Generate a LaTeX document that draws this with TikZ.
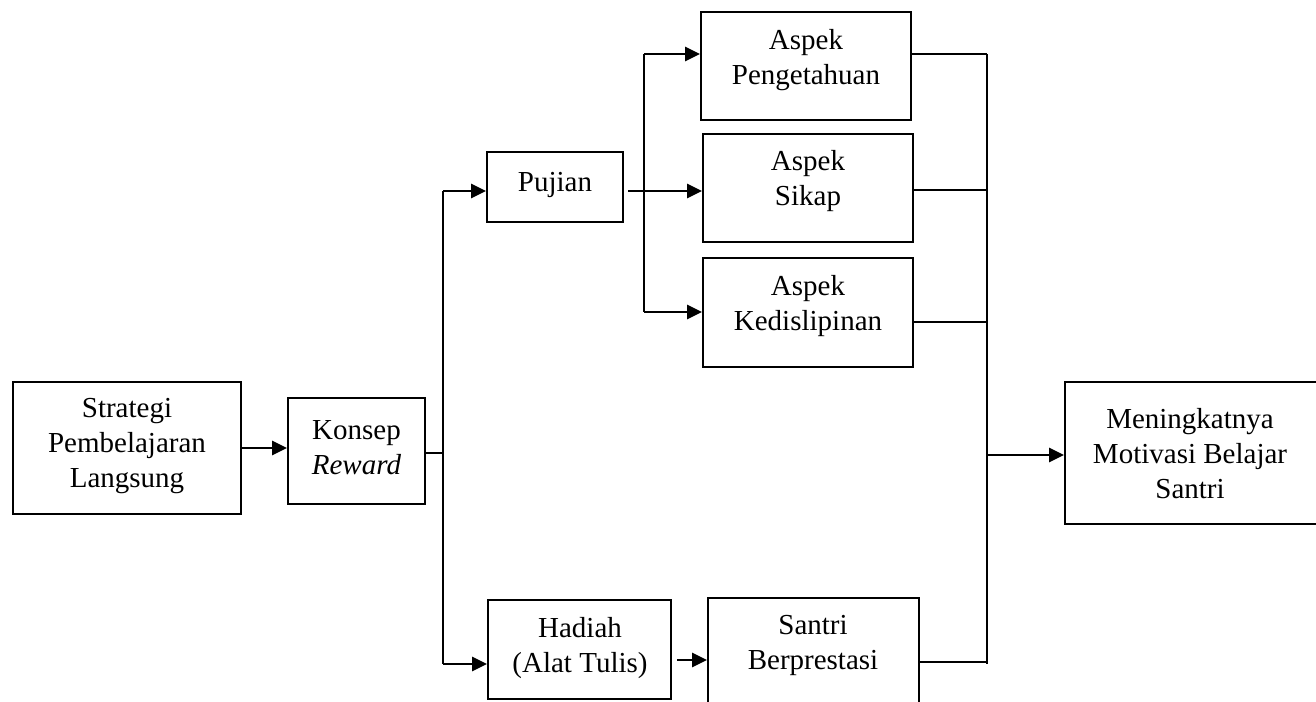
\documentclass[tikz,border=0pt]{standalone}
\usepackage{fontspec}
\setmainfont{Liberation Serif}
\usetikzlibrary{arrows.meta,calc}
\tikzset{
 box/.style={draw, line width=2pt, inner sep=0pt},
 txt/.style={align=center, inner sep=0pt, font=\fontsize{29}{35}\selectfont},
 conn/.style={line width=2.8pt},
 thinconn/.style={line width=1.6pt},
 arr/.style={line width=2.8pt, -{Triangle[length=15pt,width=14pt]}},
}
\begin{document}
\begin{tikzpicture}[x=1pt,y=-1pt]
\useasboundingbox (0,0) rectangle (1316,701);
% boxes
\node[box, minimum width=228, minimum height=132] (strat) at (127,448) {};
\node[box, minimum width=137, minimum height=106] (konsep) at (356.5,451) {};
\node[box, minimum width=136, minimum height=70] (pujian) at (555,187) {};
\node[box, minimum width=210, minimum height=108] (aspP) at (806,66) {};
\node[box, minimum width=210, minimum height=108] (aspS) at (808,188) {};
\node[box, minimum width=210, minimum height=109] (aspK) at (808,312.5) {};
\node[box, minimum width=257, minimum height=142] (motiv) at (1193.5,453) {};
\node[box, minimum width=183, minimum height=99] (hadiah) at (579.5,649.5) {};
\node[box, minimum width=211, minimum height=142] (santri) at (813.5,669) {};
% texts
\node[txt] (stratT) at (127,446) {Strategi\\Pembelajaran\\Langsung};
\node[txt] (konsepT) at (356.5,448) {Konsep\\\textit{Reward}};
\node[txt] (pujianT) at (555,185) {Pujian};
\node[txt] (aspPT) at (806,60) {Aspek\\Pengetahuan};
\node[txt] (aspST) at (808,181) {Aspek\\Sikap};
\node[txt] (aspKT) at (808,306) {Aspek\\Kedislipinan};
\node[txt] (motivT) at (1190,454) {Meningkatnya\\Motivasi Belajar\\Santri};
\node[txt] (hadiahT) at (580,648) {Hadiah\\(Alat Tulis)};
\node[txt] (santriT) at (813,645) {Santri\\Berprestasi};
% junction coordinates
\coordinate (jK) at (443,453);
\coordinate (jA) at (443,191);
\coordinate (jB) at (443,664);
\coordinate (pA) at (644,54);
\coordinate (pM) at (644,191);
\coordinate (pB) at (644,312);
\coordinate (rA) at (987,54);
\coordinate (rS) at (987,190);
\coordinate (rK) at (987,322);
\coordinate (rT) at (987,662);
\coordinate (rB) at (987,664);
\coordinate (rM) at (987,455);
\coordinate (hs) at (0,660);
% connectors
\draw[arr] (strat.east) -- (strat.east -| konsep.west);
\draw[thinconn] (jK -| konsep.east) -- (jK);
\draw[conn] (jA) -- (jB);
\draw[arr] (jA) -- (jA -| pujian.west);
\draw[arr] (jB) -- (jB -| hadiah.west);
\draw[thinconn, shorten <=4pt] (pM -| pujian.east) -- (pM);
\draw[conn] (pA) -- (pB);
\draw[arr] (pA) -- (pA -| aspP.west);
\draw[arr] (pM) -- (pM -| aspS.west);
\draw[arr] (pB) -- (pB -| aspK.west);
\draw[arr, shorten <=5pt] (hs -| hadiah.east) -- (hs -| santri.west);
\draw[thinconn] (rA -| aspP.east) -- (rA);
\draw[thinconn] (rS -| aspS.east) -- (rS);
\draw[thinconn] (rK -| aspK.east) -- (rK);
\draw[thinconn] (rT -| santri.east) -- (rT);
\draw[line width=2.5pt] (rA) -- (rB);
\draw[arr] (rM) -- (rM -| motiv.west);
\end{tikzpicture}
\end{document}
